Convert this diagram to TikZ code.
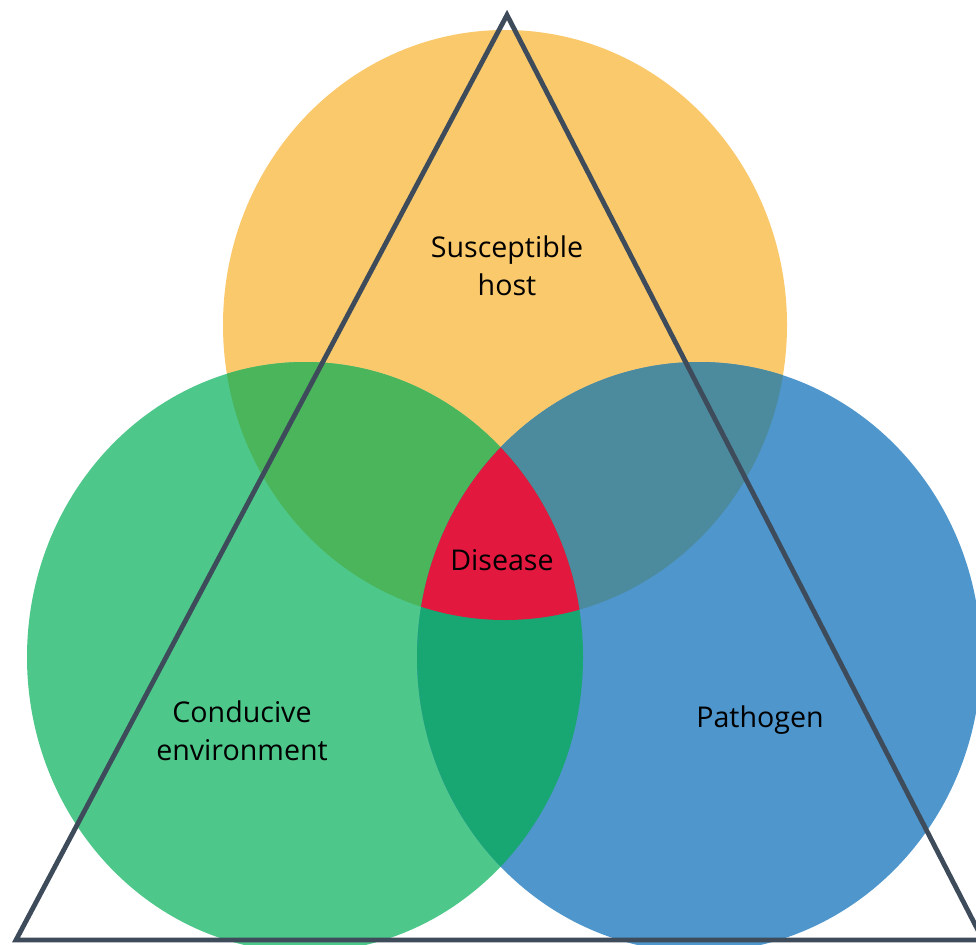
\documentclass[tikz,border=0pt]{standalone}
\usepackage{fontspec}
\setmainfont{Open Sans}
\definecolor{cOrange}{HTML}{FAC96C}
\definecolor{cGreen}{HTML}{4EC88A}
\definecolor{cBlue}{HTML}{4E96CB}
\definecolor{cOG}{HTML}{4BB55C}
\definecolor{cOB}{HTML}{4C8A9D}
\definecolor{cGB}{HTML}{18A673}
\definecolor{cRed}{HTML}{E2183F}
\definecolor{cLine}{HTML}{3E4B5A}
\begin{document}
\begin{tikzpicture}[x=1pt,y=-1pt,
  lbl/.style={font=\fontsize{28.6}{38.5}\selectfont, align=center, text=black, inner sep=0pt},
  tri/.style={draw=cLine, line width=4.8pt, line join=miter}]
\useasboundingbox (0,0) rectangle (976,944);
\clip (0,0) rectangle (976,944);
\coordinate (O) at (505,325);
\coordinate (G) at (305,657);
\coordinate (B) at (699,657);
\coordinate (T1) at (507,15);
\coordinate (T2) at (16,940);
\coordinate (T3) at (983,940);
% base circles
\fill[cOrange] (O) ellipse [x radius=282pt, y radius=295pt];
\fill[cGreen] (G) ellipse [x radius=278pt, y radius=295pt];
\fill[cBlue] (B) ellipse [x radius=282pt, y radius=295pt];
% pairwise overlaps
\begin{scope}
  \clip (O) ellipse [x radius=282pt, y radius=295pt];
  \fill[cOG] (G) ellipse [x radius=278pt, y radius=295pt];
  \fill[cOB] (B) ellipse [x radius=282pt, y radius=295pt];
\end{scope}
\begin{scope}
  \clip (G) ellipse [x radius=278pt, y radius=295pt];
  \fill[cGB] (B) ellipse [x radius=282pt, y radius=295pt];
\end{scope}
% triple overlap
\begin{scope}
  \clip (O) ellipse [x radius=282pt, y radius=295pt];
  \clip (G) ellipse [x radius=278pt, y radius=295pt];
  \fill[cRed] (B) ellipse [x radius=282pt, y radius=295pt];
\end{scope}
% triangle
\draw[tri] (T1) -- (T2) -- (T3) -- cycle;
% labels
\node[lbl] (host) at (507,266) {Susceptible\\host};
\node[lbl, anchor=base] (disease) at (502,570) {Disease};
\node[lbl] (env) at (242,731) {Conducive\\environment};
\node[lbl, anchor=base] (pathogen) at (760,727) {Pathogen};
\end{tikzpicture}
\end{document}
